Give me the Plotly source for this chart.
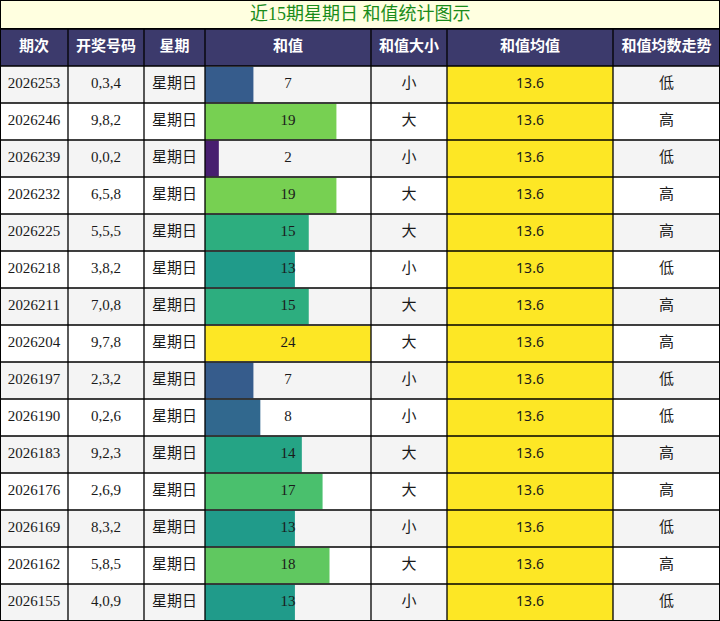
import plotly.graph_objects as go

periods = ["2026253", "2026246", "2026239", "2026232", "2026225", "2026218", "2026211", "2026204",
           "2026197", "2026190", "2026183", "2026176", "2026169", "2026162", "2026155"]
numbers = ["0,3,4", "9,8,2", "0,0,2", "6,5,8", "5,5,5", "3,8,2", "7,0,8", "9,7,8",
           "2,3,2", "0,2,6", "9,2,3", "2,6,9", "8,3,2", "5,8,5", "4,0,9"]
weekdays = ["星期日"] * 15
sums = [7, 19, 2, 19, 15, 13, 15, 24, 7, 8, 14, 17, 13, 18, 13]
sizes = ["小", "大", "小", "大", "大", "小", "大", "大", "小", "小", "大", "大", "小", "大", "小"]
means = [13.6] * 15
trends = ["低", "高", "低", "高", "高", "低", "高", "高", "低", "低", "高", "高", "低", "高", "低"]
headers = ["期次", "开奖号码", "星期", "和值", "和值大小", "和值均值", "和值均数走势"]
title = "近15期星期日 和值统计图示"

W, H = 720, 621
TITLE_H = 29
edges = [0, 68, 144, 205, 371, 447, 613, 720]
header_bg = "#3c3a6c"
mean_bg = "#fde725"
serif = "Liberation Serif, Noto Sans CJK SC"
cjk = "Noto Sans CJK SC"

rows = list(range(len(periods)))
row_bg = ["#f4f4f4" if i % 2 == 0 else "#ffffff" for i in rows]

fig = go.Figure()

# cell backgrounds, one bar trace per column (header row sits at y=-1)
for c in range(len(headers)):
    left, right = edges[c], edges[c + 1]
    fills = [mean_bg] * len(rows) if c == 5 else row_bg
    fig.add_trace(go.Bar(
        orientation="h", y=[-1] + rows, x=[right - left] * (len(rows) + 1), base=left,
        width=1, marker=dict(color=[header_bg] + fills, line=dict(width=0)),
        hoverinfo="skip", xaxis="x", yaxis="y",
    ))

# header labels
centers = [(edges[i] + edges[i + 1]) / 2 for i in range(len(headers))]
fig.add_trace(go.Scatter(
    x=centers, y=[-1] * len(headers), mode="text",
    text=[f"<b>{h}</b>" for h in headers],
    textfont=dict(family=cjk, size=15, color="white"), hoverinfo="skip",
))

# body text
columns = {0: periods, 1: numbers, 2: weekdays, 4: sizes,
           5: [f"{m:.1f}" for m in means], 6: trends}
for c, vals in columns.items():
    fig.add_trace(go.Scatter(
        x=[centers[c]] * len(rows), y=rows, mode="text", text=vals,
        textfont=dict(family="Noto Sans" if c == 5 else serif, size=15 if c != 5 else 14,
                      color="#1a1a1a"),
        hoverinfo="skip",
    ))

# sum bars on their own axis inside the 和值 column
fig.add_trace(go.Bar(
    orientation="h", y=rows, x=sums, width=0.96,
    marker=dict(color=sums, colorscale="Viridis", cmin=0, cmax=max(sums), line=dict(width=0)),
    hoverinfo="skip", xaxis="x2", yaxis="y",
))
fig.add_trace(go.Scatter(
    x=[max(sums) / 2] * len(rows), y=rows, mode="text", text=[str(s) for s in sums],
    textfont=dict(family=serif, size=15, color="#1a1a1a"),
    hoverinfo="skip", xaxis="x2", yaxis="y",
))

# grid lines
shapes = []
for e in edges:
    shapes.append(dict(type="line", xref="x", yref="y", x0=e, x1=e, y0=-1.5, y1=len(rows) - 0.5,
                       line=dict(color="black", width=2 if e in (0, W) else 1.3), layer="above"))
for k in range(len(rows) + 2):
    y = k - 1.5
    shapes.append(dict(type="line", xref="x", yref="y", x0=0, x1=W, y0=y, y1=y,
                       line=dict(color="black", width=2 if k == len(rows) + 1 else 1.3),
                       layer="above"))
# title bar
shapes.append(dict(type="rect", xref="paper", yref="paper", x0=0, x1=1,
                   y0=1 - TITLE_H / H, y1=1, fillcolor="#ffffe0",
                   line=dict(color="black", width=2), layer="below"))

fig.update_layout(
    width=W, height=H, margin=dict(l=0, r=0, t=0, b=0),
    paper_bgcolor="white", plot_bgcolor="rgba(0,0,0,0)",
    showlegend=False, barmode="overlay", shapes=shapes,
    xaxis=dict(range=[0, W], domain=[0, 1], visible=False, fixedrange=True),
    xaxis2=dict(range=[0, max(sums)], domain=[edges[3] / W, edges[4] / W], anchor="y",
                visible=False, fixedrange=True),
    yaxis=dict(range=[len(rows) - 0.5, -1.5], domain=[0, 1 - TITLE_H / H], visible=False,
               fixedrange=True),
    annotations=[dict(text=title, xref="paper", yref="paper", x=0.5, y=1 - TITLE_H / 2 / H,
                      xanchor="center", yanchor="middle", showarrow=False,
                      font=dict(family=serif, size=18, color="#1a8c1a"))],
)

# page body has a default 8px margin; drop it so the table sits flush like the reference
fig.write_html("out.html", config={"displayModeBar": False},
               post_script="document.body.style.margin = '0';")
